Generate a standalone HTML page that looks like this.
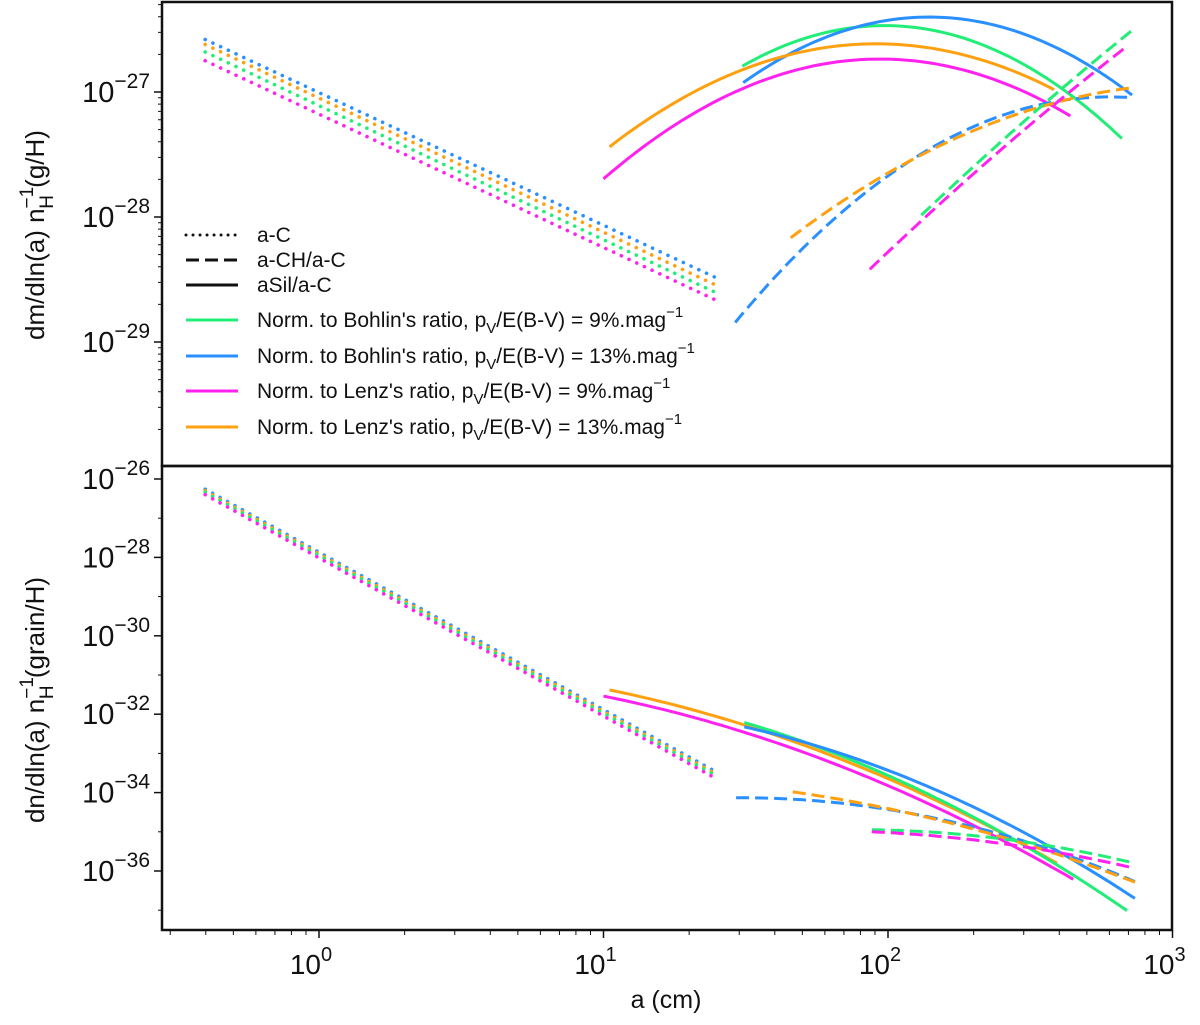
<!DOCTYPE html>
<html><head><meta charset="utf-8"><style>
body{margin:0;background:#fff;}
svg text{font-family:"Liberation Sans","DejaVu Sans",sans-serif;fill:#111;}
</style></head><body>
<svg id="chart" width="1200" height="1020" viewBox="0 0 1200 1020" xmlns="http://www.w3.org/2000/svg">
<g id="gtop"></g>
<g id="gbot"></g>
<g id="axes"></g>
<g id="legend"></g>
</svg>
<script>
// ---- data (log10 a in cm, log10 of y values) ----
const colors = {green:"#22ee77", blue:"#2a8fff", magenta:"#ff22ee", orange:"#ffa010"};
const xTicks = [0,1,2,3];
const topYTicks = [-27,-28,-29];
const botYTicks = [-26,-28,-30,-32,-34,-36];
const topDotA = [-0.40, 1.39];
const topDotBlue = [-26.58,-28.48];
const topDotOrange = [-26.62,-28.54];
const topDotGreen = [-26.68,-28.60];
const topDotMagenta = [-26.75,-28.66];
const topSolidGreenA = [1.488,1.872,2.007,2.278,2.552,2.822];
const topSolidGreenY = [-26.77,-26.52,-26.50,-26.56,-26.82,-27.41];
const topSolidBlueA = [1.491,1.733,2.117,2.416,2.687,2.858];
const topSolidBlueY = [-26.94,-26.58,-26.41,-26.50,-26.76,-27.02];
const topSolidOrangeA = [1.021,1.327,1.598,1.964,2.278,2.584];
const topSolidOrangeY = [-27.45,-26.97,-26.73,-26.64,-26.70,-26.98];
const topSolidMagentaA = [1.0,1.327,1.598,1.940,2.278,2.552,2.641];
const topSolidMagentaY = [-27.70,-27.16,-26.86,-26.74,-26.85,-27.08,-27.18];
const topDashBlueA = [1.463,1.733,2.007,2.278,2.552,2.858];
const topDashBlueY = [-28.90,-28.08,-27.65,-27.36,-27.11,-27.02];
const topDashOrangeA = [1.658,2.007,2.278,2.552,2.858];
const topDashOrangeY = [-28.17,-27.62,-27.36,-27.09,-26.97];
const topDashGreenA = [2.117,2.416,2.687,2.858];
const topDashGreenY = [-27.98,-27.38,-26.80,-26.52];
const topDashMagentaA = [1.936,2.278,2.552,2.843];
const topDashMagentaY = [-28.41,-27.73,-27.13,-26.64];
const botDotA = [-0.40, 1.39];
const botDotBlue = [-26.26,-33.45];
const botDotOrange = [-26.30,-33.50];
const botDotGreen = [-26.34,-33.55];
const botDotMagenta = [-26.40,-33.62];
const botSolidOrangeA = [1.021,1.495,2.014,2.288,2.594];
const botSolidOrangeY = [-31.38,-32.28,-33.68,-34.62,-35.80];
const botSolidMagentaA = [1.0,1.495,2.014,2.288,2.651];
const botSolidMagentaY = [-31.56,-32.40,-33.93,-34.78,-36.20];
const botSolidGreenA = [1.495,2.014,2.288,2.562,2.840];
const botSolidGreenY = [-32.22,-33.60,-34.52,-35.80,-36.97];
const botSolidBlueA = [1.495,2.014,2.288,2.562,2.868];
const botSolidBlueY = [-32.32,-33.50,-34.27,-35.39,-36.69];
const botDashBlueA = [1.466,1.740,2.149,2.423,2.698,2.868];
const botDashBlueY = [-34.11,-34.24,-34.62,-35.13,-35.72,-36.31];
const botDashOrangeA = [1.665,2.014,2.288,2.562,2.868];
const botDashOrangeY = [-33.98,-34.44,-34.88,-35.52,-36.28];
const botDashGreenA = [1.943,2.288,2.562,2.868];
const botDashGreenY = [-34.95,-35.08,-35.36,-35.80];
const botDashMagentaA = [1.943,2.288,2.562,2.868];
const botDashMagentaY = [-35.01,-35.16,-35.52,-35.92];

const L=162,R=1172,T1=2,B1=466,T2=466,B2=930;
const X = la => 319 + 284.5*la;
const Y1 = ly => 92 + (-27 - ly)*125;
const Y2 = ly => 479 + (-26 - ly)*39.2;
const NS="http://www.w3.org/2000/svg";
function mk(tag, attrs, parent){const e=document.createElementNS(NS,tag);for(const k in attrs)e.setAttribute(k,attrs[k]);parent.appendChild(e);return e;}
// least-squares polynomial fit (degree 1 or 2) in log-log space
function fit(A,Yv){
  const deg=A.length>=4?2:1, n=deg+1;
  const M=[],v=[];
  for(let i=0;i<n;i++){M.push(new Array(n).fill(0));v.push(0);}
  A.forEach((a,k)=>{for(let i=0;i<n;i++){v[i]+=Yv[k]*Math.pow(a,i);for(let j=0;j<n;j++)M[i][j]+=Math.pow(a,i+j);}});
  for(let i=0;i<n;i++){for(let r=i+1;r<n;r++){const f=M[r][i]/M[i][i];for(let c=i;c<n;c++)M[r][c]-=f*M[i][c];v[r]-=f*v[i];}}
  const c=new Array(n).fill(0);
  for(let i=n-1;i>=0;i--){let s=v[i];for(let j=i+1;j<n;j++)s-=M[i][j]*c[j];c[i]=s/M[i][i];}
  return a=>c.reduce((s,ci,i)=>s+ci*Math.pow(a,i),0);
}
const dashMap={solid:"",dash:"13 6",dot:"0.01 8.5"};
function series(parent, A, Yv, ys, color, style, name){
  const f=fit(A,Yv), a0=A[0], a1=A[A.length-1], N=60;
  let d="";
  for(let i=0;i<=N;i++){const a=a0+(a1-a0)*i/N;d+=(i?"L":"M")+X(a).toFixed(1)+","+ys(f(a)).toFixed(1);}
  const p=mk("path",{d:d,fill:"none",stroke:color,"stroke-width":style==="dot"?3.6:3,"stroke-dasharray":dashMap[style],"stroke-linecap":style==="dot"?"round":"butt"},parent);
  
  
}
const gTop=document.getElementById('gtop'), gBot=document.getElementById('gbot');
series(gTop,topDotA,topDotBlue,Y1,colors.blue,"dot","top-aC-blue");
series(gTop,topDotA,topDotOrange,Y1,colors.orange,"dot","top-aC-orange");
series(gTop,topDotA,topDotGreen,Y1,colors.green,"dot","top-aC-green");
series(gTop,topDotA,topDotMagenta,Y1,colors.magenta,"dot","top-aC-magenta");
series(gTop,topSolidGreenA,topSolidGreenY,Y1,colors.green,"solid","top-aSil-green");
series(gTop,topSolidBlueA,topSolidBlueY,Y1,colors.blue,"solid","top-aSil-blue");
series(gTop,topSolidOrangeA,topSolidOrangeY,Y1,colors.orange,"solid","top-aSil-orange");
series(gTop,topSolidMagentaA,topSolidMagentaY,Y1,colors.magenta,"solid","top-aSil-magenta");
series(gTop,topDashBlueA,topDashBlueY,Y1,colors.blue,"dash","top-aCH-blue");
series(gTop,topDashOrangeA,topDashOrangeY,Y1,colors.orange,"dash","top-aCH-orange");
series(gTop,topDashGreenA,topDashGreenY,Y1,colors.green,"dash","top-aCH-green");
series(gTop,topDashMagentaA,topDashMagentaY,Y1,colors.magenta,"dash","top-aCH-magenta");
series(gBot,botDotA,botDotBlue,Y2,colors.blue,"dot","bot-aC-blue");
series(gBot,botDotA,botDotOrange,Y2,colors.orange,"dot","bot-aC-orange");
series(gBot,botDotA,botDotGreen,Y2,colors.green,"dot","bot-aC-green");
series(gBot,botDotA,botDotMagenta,Y2,colors.magenta,"dot","bot-aC-magenta");
series(gBot,botSolidOrangeA,botSolidOrangeY,Y2,colors.orange,"solid","bot-aSil-orange");
series(gBot,botSolidMagentaA,botSolidMagentaY,Y2,colors.magenta,"solid","bot-aSil-magenta");
series(gBot,botSolidGreenA,botSolidGreenY,Y2,colors.green,"solid","bot-aSil-green");
series(gBot,botSolidBlueA,botSolidBlueY,Y2,colors.blue,"solid","bot-aSil-blue");
series(gBot,botDashBlueA,botDashBlueY,Y2,colors.blue,"dash","bot-aCH-blue");
series(gBot,botDashOrangeA,botDashOrangeY,Y2,colors.orange,"dash","bot-aCH-orange");
series(gBot,botDashGreenA,botDashGreenY,Y2,colors.green,"dash","bot-aCH-green");
series(gBot,botDashMagentaA,botDashMagentaY,Y2,colors.magenta,"dash","bot-aCH-magenta");

const ax=document.getElementById('axes');
function line(x1,y1,x2,y2,w){return mk("line",{x1,y1,x2,y2,stroke:"#111","stroke-width":w},ax);}
for(let d=-1;d<3;d++){for(let m=1;m<10;m++){const la=d+Math.log10(m);const x=X(la);if(x<L||x>R+1)continue;
  line(x,B2,x,B2+(m===1?8:5),m===1?1.5:1);}}
line(X(3),B2,X(3),B2+8,1.5);
xTicks.forEach(v=>{const t=mk("text",{x:X(v)-8,y:974,"font-size":28,"text-anchor":"middle"},ax);
  
  
  t.innerHTML=`10<tspan dy="-13" font-size="20">${v}</tspan>`;});
for(let d=-30;d<-26;d++){for(let m=1;m<10;m++){const y=Y1(d+Math.log10(m));if(y<T1||y>B1)continue;line(L,y,L-(m===1?8:4),y,m===1?1.5:1);}}
topYTicks.forEach(v=>{const t=mk("text",{x:150,y:Y1(v)+10,"font-size":29,"text-anchor":"end"},ax);
  
  
  t.innerHTML=`10<tspan dy="-14" font-size="21">−${-v}</tspan>`;});
for(let d=-37;d<=-26;d++){const y=Y2(d);if(y<T2||y>B2)continue;line(L,y,L-(d%2===0?8:4),y,d%2===0?1.5:1);}
botYTicks.forEach(v=>{const t=mk("text",{x:150,y:Y2(v)+10,"font-size":29,"text-anchor":"end"},ax);
  
  
  t.innerHTML=`10<tspan dy="-14" font-size="21">−${-v}</tspan>`;});
const f1=mk("rect",{x:L,y:T1,width:R-L,height:B1-T1,fill:"none",stroke:"#111","stroke-width":2.5},ax);


const f2=mk("rect",{x:L,y:T2,width:R-L,height:B2-T2,fill:"none",stroke:"#111","stroke-width":2.5},ax);


const xt=mk("text",{x:666,y:1008,"font-size":25,"text-anchor":"middle"},ax);xt.textContent="a (cm)";


const yt1=mk("text",{x:0,y:0,"font-size":26,"text-anchor":"middle",transform:"translate(44,235) rotate(-90)"},ax);
yt1.innerHTML='dm/dln(a) n<tspan dy="-11" font-size="19">−1</tspan><tspan dx="-22" dy="20" font-size="19">H</tspan><tspan dy="-9"> (g/H)</tspan>';


const yt2=mk("text",{x:0,y:0,"font-size":26,"text-anchor":"middle",transform:"translate(44,700) rotate(-90)"},ax);
yt2.innerHTML='dn/dln(a) n<tspan dy="-11" font-size="19">−1</tspan><tspan dx="-22" dy="20" font-size="19">H</tspan><tspan dy="-9"> (grain/H)</tspan>';



const lg=document.getElementById('legend');
const legendLabels=["a-C","a-CH/a-C","aSil/a-C","Bohlin 9","Bohlin 13","Lenz 9","Lenz 13"];
const legendColors=["#111","#111","#111",colors.green,colors.blue,colors.magenta,colors.orange];
const legendStyles=["dot","dash","solid","solid","solid","solid","solid"];
const legendY=[235,260,285,320,356,391,427];
legendLabels.forEach((lab,i)=>{
  const y=legendY[i];
  const l=mk("line",{x1:186,y1:y,x2:238,y2:y,stroke:legendColors[i],"stroke-width":3,"stroke-dasharray":legendStyles[i]==="dot"?"0.01 7":dashMap[legendStyles[i]],"stroke-linecap":legendStyles[i]==="dot"?"round":"butt"},lg);
  
  
  const t=mk("text",{x:257,y:y+7,"font-size":21},lg);
  
  
  if(i<3){t.textContent=lab;}
  else{const parts=lab.split(" ");
    t.innerHTML=`Norm. to ${parts[0]}'s ratio, p<tspan dy="6" font-size="15">V</tspan><tspan dy="-6">/E(B-V) = ${parts[1]}%.mag</tspan><tspan dy="-10" font-size="15">−1</tspan>`;}
});
</script>
</body></html>
